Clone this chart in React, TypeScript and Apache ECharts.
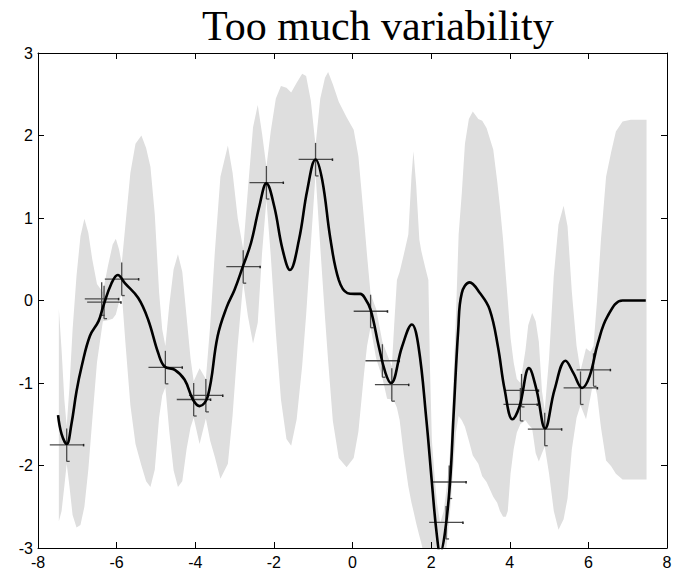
import React, { useEffect, useRef } from 'react';
import * as echarts from 'echarts';

// Mean curve
const meanX = [-7.49, -7.40, -7.27, -7.15, -7.02, -6.89, -6.68, -6.46, -6.34, -6.13, -5.97, -5.79, -5.45, -5.20, -4.94, -4.78, -4.52, -4.27, -4.06, -3.89, -3.68, -3.43, -3.20, -3.00, -2.79, -2.58, -2.37, -2.19, -1.99, -1.78, -1.59, -1.36, -1.15, -0.94, -0.77, -0.56, -0.35, -0.13, 0.05, 0.20, 0.30, 0.46, 0.67, 0.84, 0.98, 1.26, 1.51, 1.68, 1.88, 2.02, 2.14, 2.23, 2.35, 2.48, 2.57, 2.69, 2.78, 2.98, 3.24, 3.49, 3.70, 3.87, 4.07, 4.25, 4.49, 4.68, 4.90, 5.14, 5.42, 5.62, 5.84, 6.03, 6.24, 6.49, 6.87, 7.46];
const meanY = [-1.39, -1.62, -1.74, -1.50, -1.10, -0.80, -0.43, -0.25, -0.07, 0.21, 0.31, 0.21, 0.03, -0.23, -0.64, -0.80, -0.84, -0.96, -1.20, -1.28, -1.16, -0.43, -0.08, 0.13, 0.41, 0.70, 1.14, 1.42, 1.14, 0.62, 0.37, 0.74, 1.34, 1.71, 1.46, 0.74, 0.25, 0.09, 0.08, 0.08, 0.04, -0.11, -0.56, -0.88, -1.00, -0.56, -0.29, -0.56, -1.45, -2.21, -2.82, -3.06, -2.82, -2.21, -1.40, -0.35, 0.09, 0.22, 0.09, -0.11, -0.56, -1.08, -1.44, -1.28, -0.82, -1.08, -1.55, -1.08, -0.73, -0.88, -1.06, -0.92, -0.52, -0.19, 0.00, 0.00];

// Shaded band (upper / lower bounds)
const bandX = [
  -7.47, -7.40, -7.33, -7.27, -7.20, -7.12, -7.02, -6.92, -6.82, -6.72,
  -6.62, -6.50, -6.35, -6.22, -6.10, -6.02, -5.94, -5.87, -5.77, -5.65,
  -5.52, -5.37, -5.25, -5.14, -5.03, -4.92, -4.84, -4.76, -4.66, -4.55,
  -4.44, -4.33, -4.22, -4.12, -4.04, -3.89, -3.73, -3.62, -3.50, -3.36,
  -3.17, -3.05, -2.92, -2.78, -2.66, -2.53, -2.41, -2.30, -2.19, -2.08,
  -1.95, -1.82, -1.68, -1.56, -1.42, -1.28, -1.18, -1.06, -0.94, -0.82,
  -0.70, -0.62, -0.50, -0.35, -0.15, 0.03, 0.15, 0.29, 0.37, 0.46,
  0.60, 0.76, 0.88, 1.00, 1.06, 1.13, 1.20, 1.30, 1.42, 1.50,
  1.55, 1.62, 1.70, 1.75, 1.85, 1.93, 1.97, 2.02, 2.10, 2.15,
  2.23, 2.32, 2.40, 2.48, 2.56, 2.63, 2.70, 2.78, 2.86, 2.96,
  3.06, 3.20, 3.30, 3.41, 3.58, 3.68, 3.75, 3.83, 3.90, 3.95,
  4.02, 4.10, 4.18, 4.27, 4.40, 4.47, 4.57, 4.66, 4.74, 4.82,
  4.89, 5.00, 5.12, 5.24, 5.37, 5.47, 5.58, 5.70, 5.80, 5.94,
  6.05, 6.13, 6.22, 6.32, 6.45, 6.58, 6.70, 6.87, 7.08, 7.48,
];
const bandUpper = [
  -0.10, -0.60, -1.20, -1.52, -1.05, -0.35, 0.30, 0.78, 0.99, 0.82,
  0.50, 0.20, 0.10, 0.42, 0.68, 0.75, 0.62, 0.45, 0.95, 1.55,
  1.90, 2.00, 1.85, 1.62, 1.05, 0.10, -0.35, -0.55, -0.05, 0.38,
  0.56, 0.35, -0.20, -0.70, -0.98, -0.82, -0.95, -0.30, 0.60, 1.50,
  1.88, 1.55, 1.00, 0.62, 1.35, 2.10, 2.37, 2.02, 1.62, 2.05,
  2.45, 2.60, 2.58, 2.52, 2.64, 2.75, 2.72, 2.42, 1.88, 2.45,
  2.70, 2.77, 2.62, 2.41, 2.22, 2.07, 1.75, 1.00, 0.55, 0.08,
  -0.10, -0.50, -0.65, -0.80, -0.30, 0.25, 0.35, 0.55, 0.80, 1.50,
  1.81, 1.40, 0.74, 0.60, 0.40, 0.25, -0.80, -1.70, -2.20, -2.45,
  -2.70, -2.55, -2.25, -1.85, -1.05, -0.20, 0.80, 1.30, 1.90, 2.20,
  2.29, 2.20, 2.18, 2.09, 1.83, 1.45, 1.14, 0.74, 0.30, 0.00,
  -0.45, -0.75, -0.95, -1.00, -0.60, -0.30, -0.15, -0.25, -0.50, -1.10,
  -1.33, -0.70, 0.30, 0.92, 1.15, 0.90, 0.10, -0.55, -0.85, -0.58,
  -0.62, -0.55, 0.00, 0.74, 1.50, 1.80, 2.05, 2.17, 2.19, 2.19,
];
const bandLower = [
  -2.68, -2.55, -2.25, -1.98, -2.25, -2.60, -2.75, -2.72, -2.50, -2.05,
  -1.45, -0.75, -0.25, -0.24, -0.22, -0.17, -0.02, 0.09, -0.55, -1.27,
  -1.74, -2.00, -2.19, -2.26, -2.05, -1.42, -1.15, -1.05, -1.59, -2.06,
  -2.26, -2.19, -1.80, -1.54, -1.42, -1.74, -1.43, -1.70, -1.90, -2.16,
  -1.98, -1.39, -0.54, 0.22, -0.19, -0.52, -0.27, 0.58, 1.22, 0.55,
  -0.39, -1.20, -1.68, -1.76, -1.44, -0.79, -0.18, 0.68, 1.54, 0.65,
  -0.20, -0.73, -1.46, -1.91, -2.02, -1.91, -1.59, -0.90, -0.55, -0.32,
  -0.70, -0.94, -1.19, -1.20, -1.22, -1.30, -1.45, -1.85, -2.25, -2.45,
  -2.55, -2.70, -2.85, -2.94, -3.15, -3.40, -3.40, -3.30, -3.30, -3.30,
  -3.42, -3.25, -2.95, -2.57, -2.05, -1.60, -1.40, -1.45, -1.53, -1.70,
  -1.88, -1.98, -2.13, -2.20, -2.38, -2.45, -2.55, -2.62, -2.62, -2.55,
  -2.10, -1.80, -1.60, -1.50, -1.45, -1.50, -1.55, -1.85, -1.95, -1.85,
  -1.77, -2.10, -2.55, -2.78, -2.65, -2.40, -1.80, -1.42, -1.27, -1.44,
  -1.18, -0.97, -1.14, -1.54, -1.94, -2.01, -2.10, -2.17, -2.17, -2.17,
];

// Observations with error bars
const pointX = [-7.27, -6.38, -6.32, -5.87, -4.76, -4.04, -3.73, -2.78, -2.19, -0.94, 0.46, 0.76, 1.00, 2.38, 2.46, 4.27, 4.30, 4.89, 5.80, 6.13];
const pointY = [-1.75, 0.02, -0.02, 0.26, -0.81, -1.20, -1.15, 0.41, 1.43, 1.71, -0.13, -0.73, -1.02, -2.69, -2.20, -1.26, -1.09, -1.56, -1.06, -0.84];
const xError = 0.43;
const yError = 0.2;

const titleText = 'Too much variability';

export default function App() {
  const ref = useRef<HTMLDivElement>(null);

  useEffect(() => {
    if (!ref.current) return;
    const chart = echarts.init(ref.current, null, { renderer: 'svg' });
    const sans = "'Liberation Sans', Arial, Helvetica, sans-serif";
    const axisLine = { show: true, onZero: false, lineStyle: { color: '#000', width: 1 } };
    const axisTick = { show: true, inside: true, length: 6, lineStyle: { color: '#000', width: 1 } };
    const n = Math.min(bandX.length, bandUpper.length, bandLower.length);

    chart.setOption({
      animation: false,
      backgroundColor: '#ffffff',
      title: {
        text: titleText,
        left: 197,
        top: 0,
        textStyle: { fontFamily: "'Liberation Serif', 'Times New Roman', serif", fontSize: 42, fontWeight: 'normal', color: '#000' },
      },
      grid: { left: 38, top: 53, width: 629, height: 495, containLabel: false, outerBoundsMode: 'none' },
      xAxis: [
        {
          type: 'value', min: -8, max: 8, interval: 2, position: 'bottom', z: 10,
          axisLine, axisTick,
          axisLabel: { color: '#000', fontSize: 16, fontFamily: sans, margin: 6 },
          splitLine: { show: false },
        },
        {
          type: 'value', min: -8, max: 8, interval: 2, position: 'top', z: 10,
          axisLine, axisTick,
          axisLabel: { show: false },
          splitLine: { show: false },
        },
      ],
      yAxis: [
        {
          type: 'value', min: -3, max: 3, interval: 1, position: 'left', z: 10,
          axisLine, axisTick,
          axisLabel: { color: '#000', fontSize: 16, fontFamily: sans, margin: 5 },
          splitLine: { show: false },
        },
        {
          type: 'value', min: -3, max: 3, interval: 1, position: 'right', z: 10,
          axisLine, axisTick,
          axisLabel: { show: false },
          splitLine: { show: false },
        },
      ],
      series: [
        {
          type: 'custom',
          name: 'band',
          xAxisIndex: 0,
          yAxisIndex: 0,
          silent: true,
          clip: true,
          z: 1,
          data: [[0, 0]],
          renderItem: (params: any, api: any) => {
            const pts: number[][] = [];
            for (let i = 0; i < n; i++) pts.push(api.coord([bandX[i], bandUpper[i]]));
            for (let i = n - 1; i >= 0; i--) pts.push(api.coord([bandX[i], bandLower[i]]));
            return { type: 'polygon', shape: { points: pts }, style: { fill: '#dedede', stroke: null } };
          },
        },
        {
          type: 'custom',
          name: 'observations',
          xAxisIndex: 0,
          yAxisIndex: 0,
          silent: true,
          clip: true,
          z: 3,
          data: pointX.map((x, i) => [x, pointY[i]]),
          renderItem: (params: any, api: any) => {
            const x = api.value(0);
            const y = api.value(1);
            const c = api.coord([x, y]);
            const l = api.coord([x - xError, y]);
            const r = api.coord([x + xError, y]);
            const t = api.coord([x, y + yError]);
            const b = api.coord([x, y - yError]);
            const style = { stroke: '#4a4a4a', lineWidth: 1.3 };
            return {
              type: 'group',
              children: [
                { type: 'line', shape: { x1: l[0], y1: c[1], x2: r[0], y2: c[1] }, style },
                { type: 'line', shape: { x1: c[0], y1: t[1], x2: c[0], y2: b[1] }, style },
                { type: 'line', shape: { x1: c[0], y1: b[1], x2: c[0] + 3, y2: b[1] }, style },
                { type: 'line', shape: { x1: r[0], y1: c[1] - 1, x2: r[0], y2: c[1] + 1.5 }, style: { stroke: '#222', lineWidth: 1.5 } },
              ],
            };
          },
        },
        {
          type: 'line',
          name: 'mean',
          xAxisIndex: 0,
          yAxisIndex: 0,
          data: meanX.map((x, i) => [x, meanY[i]]),
          smooth: 0.4,
          symbol: 'none',
          clip: true,
          z: 4,
          lineStyle: { color: '#000', width: 2.6 },
        },
      ],
    });

    return () => chart.dispose();
  }, []);

  return (
    <div
      ref={ref}
      style={{ position: 'fixed', left: 0, top: 0, width: 683, height: 575, background: '#fff' }}
    />
  );
}
